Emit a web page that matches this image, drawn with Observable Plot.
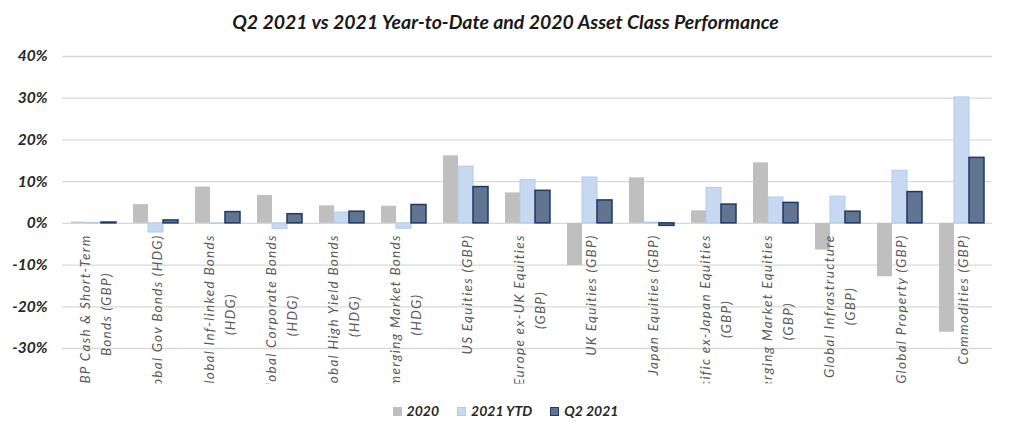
<!DOCTYPE html>
<html><head><meta charset="utf-8">
<script src="https://cdn.jsdelivr.net/npm/d3@7"></script>
<script src="https://cdn.jsdelivr.net/npm/@observablehq/plot@0.6"></script>
<style>
body{margin:0;background:#fff;font-family:Lato,sans-serif;}
#wrap{width:1011px;height:437px;position:relative;overflow:hidden;}
#title{position:absolute;top:0;left:0;width:1011px;text-align:center;font-weight:bold;font-style:italic;font-size:19.5px;line-height:44px;color:#1a1a1a;}
#chart{position:absolute;top:40px;left:0;}
#legend{position:absolute;top:402px;left:0;width:1011px;display:flex;justify-content:center;gap:18px;font-weight:bold;font-style:italic;font-size:14px;color:#262626;line-height:18px;}
#legend span.item{display:flex;align-items:center;gap:5px;}
#legend span.sw{display:inline-block;width:9px;height:9px;box-sizing:border-box;}
</style></head>
<body><div id="wrap">
<div id="title">Q2 2021 vs 2021 Year-to-Date and 2020 Asset Class Performance</div>
<div id="chart"></div>
<div id="legend"></div>
</div>
<script>
const categories = [
  "GBP Cash & Short-Term\nBonds (GBP)",
  "Global Gov Bonds (HDG)",
  "Global Inf-linked Bonds\n(HDG)",
  "Global Corporate Bonds\n(HDG)",
  "Global High Yield Bonds\n(HDG)",
  "Emerging Market Bonds\n(HDG)",
  "US Equities (GBP)",
  "Europe ex-UK Equities\n(GBP)",
  "UK Equities (GBP)",
  "Japan Equities (GBP)",
  "Pacific ex-Japan Equities\n(GBP)",
  "Emerging Market Equities\n(GBP)",
  "Global Infrastructure\n(GBP)",
  "Global Property (GBP)",
  "Commodities (GBP)"
];
const series = ["2020", "2021 YTD", "Q2 2021"];
const v2020 = [0.3, 4.5, 8.7, 6.7, 4.2, 4.1, 16.2, 7.3, -10.1, 10.9, 3.0, 14.5, -6.4, -12.8, -26.1];
const vYTD  = [0.1, -2.2, -0.1, -1.4, 2.6, -1.3, 13.6, 10.4, 11.0, 0.2, 8.5, 6.2, 6.4, 12.6, 30.2];
const vQ2   = [0.2, 0.7, 2.7, 2.2, 2.8, 4.4, 8.7, 7.8, 5.5, -0.6, 4.5, 4.9, 2.8, 7.5, 15.7];
const yTicks = [-30, -20, -10, 0, 10, 20, 30, 40];

const fills = {"2020": "#BFBFBF", "2021 YTD": "#C6D9F1", "Q2 2021": "#617491"};
const strokes = {"2020": "none", "2021 YTD": "#B4CBEA", "Q2 2021": "#1F3864"};

const table = categories.flatMap((c, i) => [
  {category: c, series: series[0], value: v2020[i]},
  {category: c, series: series[1], value: vYTD[i]},
  {category: c, series: series[2], value: vQ2[i]}
]);

const plot = Plot.plot({
  width: 1011, height: 355,
  marginTop: 16, marginBottom: 47, marginLeft: 60, marginRight: 17,
  style: {fontFamily: "Lato, sans-serif", background: "transparent", overflow: "visible"},
  fx: {domain: categories, padding: 0, axis: null},
  x: {domain: series, paddingInner: 0, paddingOuter: 0.53, axis: null},
  y: {domain: [-30, 40], label: null},
  color: {domain: series, range: series.map(s => fills[s])},
  marks: [
    Plot.gridY(yTicks, {stroke: "#D9D9D9", strokeOpacity: 1, strokeWidth: 1.3}),
    Plot.axisY(yTicks, {tickSize: 0, tickPadding: 15, fontSize: 15.5, fontWeight: "bold", fontStyle: "italic",
      fill: "#262626", tickFormat: d => d + "%", label: null}),
    Plot.barY(table, {fx: "category", x: "series", y: "value", fill: "series",
      stroke: d => strokes[d.series], strokeWidth: d => d.series === "Q2 2021" ? 1.5 : 1}),
    Plot.text(categories, {fx: d => d, y: d => 0, text: d => d, rotate: -90,
      textAnchor: "end", lineAnchor: "middle", lineHeight: 1.6, fontSize: 13.5,
      fontStyle: "italic", fill: "#595959", dy: 11})
  ]
});
document.getElementById("chart").appendChild(plot);

// clip the category labels at the bottom of the chart area, as in the original
const ns = "http://www.w3.org/2000/svg";
const clip = document.createElementNS(ns, "clipPath");
clip.setAttribute("id", "label-clip");
const rect = document.createElementNS(ns, "rect");
rect.setAttribute("x", -2000); rect.setAttribute("y", -100);
rect.setAttribute("width", 5000); rect.setAttribute("height", 432);
clip.appendChild(rect);
plot.insertBefore(clip, plot.firstChild);

plot.querySelectorAll('g[aria-label="text"]').forEach(g => g.setAttribute("clip-path", "url(#label-clip)"));
// letter spacing like the original, then centre the lines of each rotated label block
plot.querySelectorAll('g[aria-label="text"] text').forEach(t => {
  t.style.letterSpacing = "1.3px";
  const spans = t.querySelectorAll("tspan");
  if (spans.length < 2) return;
  const w = Math.max(...Array.from(spans, s => s.getComputedTextLength()));
  spans.forEach(s => {
    s.setAttribute("x", -w / 2);
    s.setAttribute("text-anchor", "middle");
  });
});

const legend = document.getElementById("legend");
series.forEach(s => {
  const item = document.createElement("span");
  item.className = "item";
  const sw = document.createElement("span");
  sw.className = "sw";
  sw.style.background = fills[s];
  if (strokes[s] !== "none") sw.style.border = `1px solid ${strokes[s]}`;
  item.appendChild(sw);
  item.appendChild(document.createTextNode(s));
  legend.appendChild(item);
});
</script>
</body></html>
